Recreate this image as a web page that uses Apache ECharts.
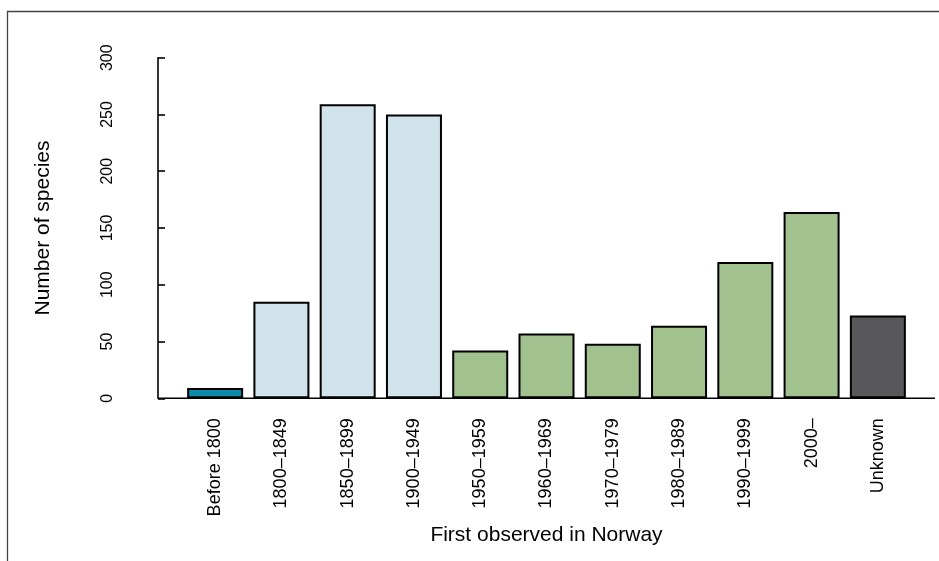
<!DOCTYPE html>
<html>
<head>
<meta charset="utf-8">
<script src="https://cdn.jsdelivr.net/npm/echarts@6/dist/echarts.min.js"></script>
<style>
html,body{margin:0;padding:0;background:#fff;}
#chart{width:939px;height:561px;}
</style>
</head>
<body>
<div id="chart"></div>
<script>
const categories = ['Before 1800','1800–1849','1850–1899','1900–1949','1950–1959','1960–1969','1970–1979','1980–1989','1990–1999','2000–','Unknown'];
const species = [9, 85, 259, 250, 42, 57, 48, 64, 120, 164, 73];
const periodGroup = ['early','c19','c19','c19','recent','recent','recent','recent','recent','recent','unknown'];
const yTicks = [0, 50, 100, 150, 200, 250, 300];

const groupColors = {early:'#0b8bab', c19:'#d0e2ea', recent:'#a1c28f', unknown:'#58585a'};
const FONT = '"Liberation Sans", Arial, Helvetica, sans-serif';

const chart = echarts.init(document.getElementById('chart'), null, {renderer:'canvas'});
const option = {
  animation: false,
  backgroundColor: '#fff',
  grid: {left: 182, right: 28, top: 57.7, bottom: 162.7, containLabel: false},
  xAxis: {
    type: 'category',
    data: categories,
    name: 'First observed in Norway',
    nameLocation: 'middle',
    nameGap: 126,
    nameTextStyle: {fontFamily: FONT, fontSize: 21, color: '#000'},
    axisLine: {show: false},
    axisTick: {show: false},
    axisLabel: {rotate: 90, margin: 20, fontFamily: FONT, fontSize: 18, color: '#000', interval: 0}
  },
  yAxis: {
    type: 'value',
    min: yTicks[0],
    max: yTicks[yTicks.length-1],
    interval: 50,
    offset: 24,
    name: 'Number of species',
    nameLocation: 'middle',
    nameGap: 104,
    nameTextStyle: {fontFamily: FONT, fontSize: 21, color: '#000'},
    splitLine: {show: false},
    axisLine: {show: true, lineStyle: {color: '#000', width: 1.6}},
    axisTick: {show: true, inside: true, length: 7, lineStyle: {color: '#000', width: 1.6}},
    axisLabel: {rotate: 90, margin: 50, align: 'center', verticalAlign: 'middle', fontFamily: FONT, fontSize: 16, color: '#000'}
  },
  series: [{
    type: 'bar',
    barCategoryGap: '15.5%',
    data: species.map((v, i) => ({value: v, itemStyle: {color: groupColors[periodGroup[i]]}})),
    itemStyle: {borderColor: '#000', borderWidth: 2}
  }]
};
chart.setOption(option);

const y0 = chart.convertToPixel({yAxisIndex: 0}, 0);
chart.setOption({
  graphic: [
    {type: 'line', z: 100, shape: {x1: 158, y1: y0, x2: 935, y2: y0}, style: {stroke: '#000', lineWidth: 1.6}},
    {type: 'rect', z: 100, shape: {x: 7.5, y: 11.5, width: 1000, height: 1000}, style: {fill: 'none', stroke: '#444', lineWidth: 1.3}}
  ]
});
</script>
</body>
</html>
